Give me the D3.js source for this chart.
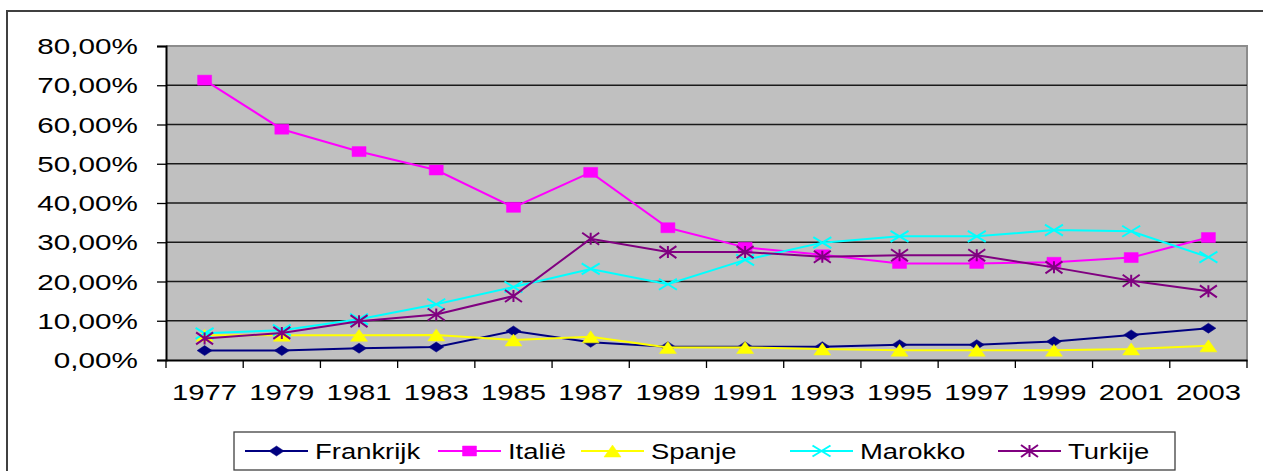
<!DOCTYPE html>
<html>
<head>
<meta charset="utf-8">
<script src="https://cdn.jsdelivr.net/npm/d3@7"></script>
<style>
  html, body { margin: 0; padding: 0; background: #fff; }
  svg { display: block; font-family: "Liberation Sans", Arial, sans-serif; }
</style>
</head>
<body>
<svg id="chart" width="1263" height="471"></svg>
<script>
const years = ['1977', '1979', '1981', '1983', '1985', '1987', '1989', '1991', '1993', '1995', '1997', '1999', '2001', '2003'];
const yTicks = [0, 10, 20, 30, 40, 50, 60, 70, 80];

const frankrijk = [2.4, 2.4, 3.0, 3.3, 7.4, 4.5, 3.4, 3.4, 3.4, 3.9, 3.9, 4.7, 6.4, 8.1];
const italie    = [71.3, 58.8, 53.1, 48.4, 38.9, 47.8, 33.7, 28.7, 26.8, 24.6, 24.6, 24.9, 26.1, 31.2];
const spanje    = [6.3, 6.3, 6.3, 6.4, 5.1, 5.9, 3.2, 3.2, 2.8, 2.5, 2.5, 2.5, 2.8, 3.6];
const marokko   = [6.8, 7.6, 10.4, 14.2, 18.6, 23.2, 19.3, 25.5, 29.9, 31.5, 31.5, 33.1, 32.8, 26.2];
const turkije   = [5.5, 6.9, 9.9, 11.6, 16.3, 30.9, 27.5, 27.5, 26.3, 26.7, 26.7, 23.6, 20.2, 17.5];

const seriesNames = ['Frankrijk', 'Italië', 'Spanje', 'Marokko', 'Turkije'];
const seriesValues = [frankrijk, italie, spanje, marokko, turkije];
const seriesColors = ['#000080', '#ff00ff', '#ffff00', '#00ffff', '#800080'];
const seriesMarkers = ['diamond', 'square', 'triangle', 'x', 'star'];

const svg = d3.select('#chart');
const plot = { left: 166, right: 1247, top: 46, bottom: 360 };
const stretch = 1.32; // the original picture is widened horizontally

// outer frame of the chart object
svg.append('path')
  .attr('d', 'M7,480 V11 H1263')
  .attr('fill', 'none')
  .attr('stroke', '#404040')
  .attr('stroke-width', 2);

const x = d3.scaleBand().domain(years).range([plot.left, plot.right]);
const y = d3.scaleLinear().domain([0, 80]).range([plot.bottom, plot.top]);

// plot area
svg.append('rect')
  .attr('x', plot.left).attr('y', plot.top)
  .attr('width', plot.right - plot.left).attr('height', plot.bottom - plot.top)
  .attr('fill', '#c0c0c0');
svg.append('path')
  .attr('d', `M${plot.left},${plot.top} H${plot.right} V${plot.bottom}`)
  .attr('fill', 'none').attr('stroke', '#8c8c8c').attr('stroke-width', 2);

// gridlines
svg.append('g').selectAll('line')
  .data(yTicks.filter(d => d > 0 && d < 80))
  .enter().append('line')
    .attr('x1', plot.left).attr('x2', plot.right)
    .attr('y1', d => y(d)).attr('y2', d => y(d))
    .attr('stroke', '#1a1a1a').attr('stroke-width', 1.3);

// y axis
const yAxis = svg.append('g')
  .attr('transform', `translate(${plot.left},0)`)
  .call(d3.axisLeft(y).tickValues(yTicks).tickSize(9).tickPadding(0).tickFormat(d => ''));
yAxis.select('.domain').attr('stroke', '#000').attr('stroke-width', 2);
yAxis.selectAll('.tick line').attr('stroke', '#000').attr('stroke-width', 1.3);
svg.append('g').selectAll('text')
  .data(yTicks)
  .enter().append('text')
    .attr('transform', d => `translate(138,${y(d) + 8}) scale(${stretch},1)`)
    .attr('text-anchor', 'end')
    .attr('font-size', 22.5)
    .attr('fill', '#000')
    .text(d => d3.format('.2f')(d).replace('.', ',') + '%');

// x axis
const xAxis = svg.append('g')
  .attr('transform', `translate(0,${plot.bottom})`)
  .call(d3.axisBottom(x).tickSize(0).tickFormat(() => ''));
xAxis.select('.domain').attr('stroke', '#000').attr('stroke-width', 2);
svg.append('g').selectAll('line')
  .data(years.concat(['end']))
  .enter().append('line')
    .attr('x1', (d, i) => plot.left + i * x.step()).attr('x2', (d, i) => plot.left + i * x.step())
    .attr('y1', plot.bottom).attr('y2', plot.bottom + 8)
    .attr('stroke', '#000').attr('stroke-width', 1.3);
svg.append('g').selectAll('text')
  .data(years)
  .enter().append('text')
    .attr('transform', d => `translate(${x(d) + x.bandwidth() / 2},399.5) scale(1.3,1)`)
    .attr('text-anchor', 'middle')
    .attr('font-size', 22.5)
    .attr('fill', '#000')
    .text(d => d);

function markerPath(type, w, h) {
  const a = w / 2, b = h / 2;
  switch (type) {
    case 'diamond': return `M0,${-b}L${a},0L0,${b}L${-a},0Z`;
    case 'square': return `M${-a},${-b}H${a}V${b}H${-a}Z`;
    case 'triangle': return `M0,${-b}L${a},${b}H${-a}Z`;
    case 'x': return `M${-a},${-b}L${a},${b}M${a},${-b}L${-a},${b}`;
    case 'star': return `M${-a},${-b}L${a},${b}M${a},${-b}L${-a},${b}M0,${-b}V${b}`;
  }
}
const markerSize = { diamond: [15, 10], square: [14, 10], triangle: [17, 12], x: [18, 11], star: [17, 12] };

const line = d3.line()
  .x((d, i) => x(years[i]) + x.bandwidth() / 2)
  .y(d => y(d));

// series (draw in the order Excel layers them)
seriesNames.forEach((name, s) => {
  const g = svg.append('g').attr('class', 'series');
  g.append('path')
    .datum(seriesValues[s])
    .attr('d', line)
    .attr('fill', 'none')
    .attr('stroke', seriesColors[s])
    .attr('stroke-width', 2);
  const m = seriesMarkers[s];
  const filled = m === 'diamond' || m === 'square' || m === 'triangle';
  g.selectAll('path.mk')
    .data(seriesValues[s])
    .enter().append('path')
      .attr('class', 'mk')
      .attr('transform', (d, i) => `translate(${x(years[i]) + x.bandwidth() / 2},${y(d)})`)
      .attr('d', markerPath(m, markerSize[m][0], markerSize[m][1]))
      .attr('fill', filled ? seriesColors[s] : 'none')
      .attr('stroke', seriesColors[s])
      .attr('stroke-width', filled ? 0.5 : 2);
});

// legend
const legend = svg.append('g');
legend.append('rect')
  .attr('x', 234).attr('y', 432).attr('width', 941).attr('height', 38)
  .attr('fill', '#fff').attr('stroke', '#404040').attr('stroke-width', 1.3);
const legendX = [245, 438, 581, 790, 998];
seriesNames.forEach((name, s) => {
  const g = legend.append('g').attr('transform', `translate(${legendX[s]},451)`);
  g.append('line').attr('x1', 0).attr('x2', 63).attr('y1', 0).attr('y2', 0)
    .attr('stroke', seriesColors[s]).attr('stroke-width', 2);
  const m = seriesMarkers[s];
  const filled = m === 'diamond' || m === 'square' || m === 'triangle';
  g.append('path')
    .attr('transform', 'translate(31.5,0)')
    .attr('d', markerPath(m, markerSize[m][0], markerSize[m][1]))
    .attr('fill', filled ? seriesColors[s] : 'none')
    .attr('stroke', seriesColors[s])
    .attr('stroke-width', filled ? 0.5 : 2);
  g.append('text')
    .attr('transform', `translate(70,8) scale(1.22,1)`)
    .attr('font-size', 22.5)
    .attr('fill', '#000')
    .text(name);
});
</script>
</body>
</html>
